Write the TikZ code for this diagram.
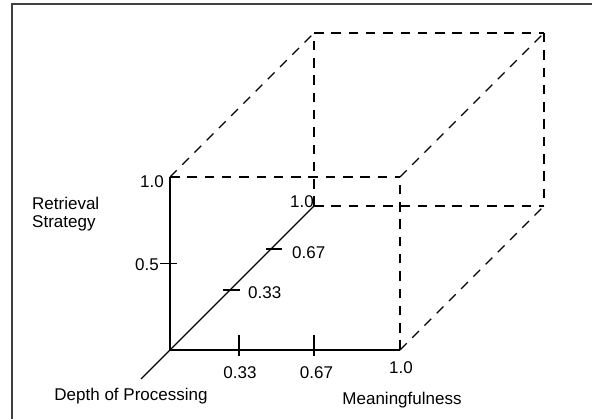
\documentclass[tikz,border=0pt]{standalone}
\usepackage{fontspec}
\setmainfont{Liberation Sans}
\begin{document}
\begin{tikzpicture}[x=1pt,y=-1pt,
  axis/.style={line width=1.2pt,black},
  hid/.style={line width=1.2pt,black,dash pattern=on 9.5pt off 7.8pt},
  tick/.style={line width=1.2pt,black},
  lbl/.style={inner sep=0pt,font=\fontsize{17}{20}\selectfont},
  frameline/.style={line width=1.5pt,black!75}]
\useasboundingbox (0,0) rectangle (592,419);
% frame
\coordinate (fTL) at (12,4);
\coordinate (fTR) at (593,4);
\coordinate (fBL) at (12,420);
\draw[frameline] (fTR) -- (fTL) -- (fBL);
% cube corners
\coordinate (O) at (170,350);
\coordinate (Y) at (170,177);
\coordinate (X) at (400,350);
\coordinate (XY) at (400,177);
\coordinate (Z) at (314,206);
\coordinate (ZY) at (314,33);
\coordinate (ZX) at (544,206);
\coordinate (ZXY) at (544,33);
\coordinate (Dtail) at (141,379);
% hidden (dashed) edges
\draw[hid] (Y) -- (XY);
\draw[hid] (X) -- (XY);
\draw[hid] (Y) -- (ZY);
\draw[hid] (XY) -- (ZXY);
\draw[hid] (X) -- (ZX);
\draw[hid] (Z) -- (ZY);
\draw[hid] (ZY) -- (ZXY);
\draw[hid] (ZXY) -- (ZX);
\draw[hid] (Z) -- (ZX);
% axes
\draw[axis] (Y) -- (O) -- (X);
\draw[axis] (Dtail) -- (Z);
% ticks
\coordinate (ty1) at (160,263.5); \coordinate (ty2) at (177,263.5);
\draw[tick] (ty1) -- (ty2);
\coordinate (tx1a) at (239,335); \coordinate (tx1b) at (239,356);
\draw[tick] (tx1a) -- (tx1b);
\coordinate (tx2a) at (314,335); \coordinate (tx2b) at (314,356);
\draw[tick] (tx2a) -- (tx2b);
\coordinate (tz1a) at (223,290); \coordinate (tz1b) at (240,290);
\draw[tick] (tz1a) -- (tz1b);
\coordinate (tz2a) at (266,249); \coordinate (tz2b) at (282,249);
\draw[tick] (tz2a) -- (tz2b);
% labels
\node[lbl,anchor=base east] (lY1) at (164,187.5) {1.0};
\node[lbl,anchor=base east] (lY05) at (159,271) {0.5};
\node[lbl,anchor=base west] (lRet) at (32,209.5) {Retrieval};
\node[lbl,anchor=base west] (lStr) at (32,227.5) {Strategy};
\node[lbl,anchor=base west] (lZ1) at (290,208) {1.0};
\node[lbl,anchor=base west] (lZ033) at (248,299) {0.33};
\node[lbl,anchor=base west] (lZ067) at (292,258.5) {0.67};
\node[lbl,anchor=base] (lX033) at (240,379) {0.33};
\node[lbl,anchor=base] (lX067) at (316.5,379) {0.67};
\node[lbl,anchor=base] (lX1) at (401,374) {1.0};
\node[lbl,anchor=base] (lMean) at (402,405) {Meaningfulness};
\node[lbl,anchor=base] (lDepth) at (131,401) {Depth of Processing};
\end{tikzpicture}
\end{document}
